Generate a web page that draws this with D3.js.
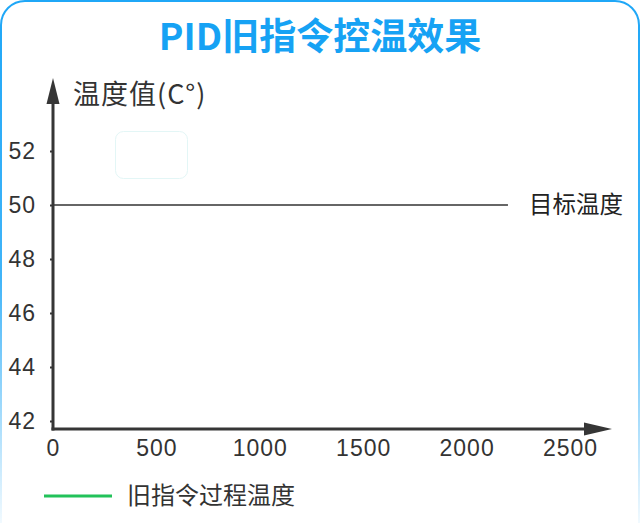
<!DOCTYPE html>
<html>
<head>
<meta charset="utf-8">
<script src="https://cdn.jsdelivr.net/npm/d3@7"></script>
<style>
  html, body { margin: 0; padding: 0; background: #fff; }
  svg { display: block; font-family: "Noto Sans CJK SC", "Noto Sans", sans-serif; }
</style>
</head>
<body>
<div id="chart"></div>
<script>
// chart values
const title = 'PID旧指令控温效果';
const yLabel = '温度值(C°)';
const xTicks = [0, 500, 1000, 1500, 2000, 2500];
const yTicks = [42, 44, 46, 48, 50, 52];
const targetName = '目标温度';
const targetTemp = 50;
const targetRange = [0, 2200];
const processName = '旧指令过程温度';
const processTemp = []; // no samples drawn in the picture

const w = 640, h = 523;
const fontFamily = '"Noto Sans CJK SC", "Noto Sans", sans-serif';
const svg = d3.select('#chart').append('svg')
  .attr('width', w)
  .attr('height', h);

// frame, fading out towards the bottom
const defs = svg.append('defs');
const grad = defs.append('linearGradient')
  .attr('id', 'frame-grad')
  .attr('x1', 0).attr('y1', 0).attr('x2', 0).attr('y2', 1);
grad.append('stop').attr('offset', '0%').attr('stop-color', '#1fa7f7').attr('stop-opacity', 1);
grad.append('stop').attr('offset', '50%').attr('stop-color', '#1fa7f7').attr('stop-opacity', 0.85);
grad.append('stop').attr('offset', '95%').attr('stop-color', '#1fa7f7').attr('stop-opacity', 0.05);

svg.append('rect')
  .attr('x', 1).attr('y', 1)
  .attr('width', w - 2).attr('height', h + 30)
  .attr('rx', 24)
  .attr('fill', 'none')
  .attr('stroke', 'url(#frame-grad)')
  .attr('stroke-width', 2);

svg.append('text')
  .attr('x', w / 2)
  .attr('y', 50)
  .attr('text-anchor', 'middle')
  .attr('font-size', 37)
  .attr('font-weight', 'bold')
  .attr('fill', '#16a2f4')
  .text(title);

const originX = 53, originY = 429;

const x = d3.scaleLinear()
  .domain([0, 2500])
  .range([originX, 570]);

const y = d3.scaleLinear()
  .domain([42, 52])
  .range([421, 151]);

const axisColor = '#363636';

// y axis ticks and labels
const yAxis = d3.axisLeft(y).tickValues(yTicks).tickSize(3).tickPadding(14).tickFormat(d3.format('d'));
const gy = svg.append('g')
  .attr('transform', 'translate(' + originX + ',0)')
  .attr('font-family', fontFamily)
  .call(yAxis);
gy.select('.domain').remove();
gy.selectAll('.tick line').attr('stroke', axisColor).attr('stroke-width', 2);
gy.selectAll('.tick text')
  .attr('font-size', 23)
  .attr('letter-spacing', 1)
  .attr('fill', '#333');

// x axis ticks and labels
const xAxis = d3.axisBottom(x).tickValues(xTicks).tickSize(0).tickPadding(11).tickFormat(d3.format('d'));
const gx = svg.append('g')
  .attr('transform', 'translate(0,' + originY + ')')
  .attr('font-family', fontFamily)
  .call(xAxis);
gx.select('.domain').remove();
gx.selectAll('.tick text')
  .attr('font-size', 23)
  .attr('letter-spacing', 1)
  .attr('fill', '#333');

// axis lines with arrow heads
svg.append('line')
  .attr('x1', originX).attr('y1', originY + 1.5)
  .attr('x2', originX).attr('y2', 100)
  .attr('stroke', axisColor).attr('stroke-width', 3);
svg.append('path')
  .attr('d', 'M' + originX + ',78 L' + (originX - 6.5) + ',104 L' + (originX + 6.5) + ',104 Z')
  .attr('fill', axisColor);

svg.append('line')
  .attr('x1', originX - 1.5).attr('y1', originY)
  .attr('x2', 590).attr('y2', originY)
  .attr('stroke', axisColor).attr('stroke-width', 3);
svg.append('path')
  .attr('d', 'M612,' + originY + ' L584,' + (originY - 6.5) + ' L584,' + (originY + 6.5) + ' Z')
  .attr('fill', axisColor);

svg.append('text')
  .attr('x', 73)
  .attr('y', 104)
  .attr('font-size', 27)
  .attr('letter-spacing', 1)
  .attr('fill', '#333')
  .text(yLabel);

// target temperature line
const line = d3.line().x(d => x(d[0])).y(d => y(d[1]));
svg.append('path')
  .datum(targetRange.map(v => [v, targetTemp]))
  .attr('d', line)
  .attr('fill', 'none')
  .attr('stroke', '#333')
  .attr('stroke-width', 1.5);

svg.append('text')
  .attr('x', 529)
  .attr('y', y(targetTemp) + 8)
  .attr('font-size', 23.5)
  .attr('fill', '#222')
  .text(targetName);

// process temperature series (empty)
svg.append('path')
  .datum(processTemp)
  .attr('d', line)
  .attr('fill', 'none')
  .attr('stroke', '#22c25a')
  .attr('stroke-width', 2);

// faint empty tooltip box
svg.append('rect')
  .attr('x', 115.5).attr('y', 131.5)
  .attr('width', 72).attr('height', 47)
  .attr('rx', 8)
  .attr('fill', 'none')
  .attr('stroke', '#e3f6f6')
  .attr('stroke-width', 1);

// legend
const legend = svg.append('g').attr('transform', 'translate(44,496)');
legend.append('line')
  .attr('x1', 0).attr('x2', 68)
  .attr('y1', 0).attr('y2', 0)
  .attr('stroke', '#22c25a')
  .attr('stroke-width', 3);
legend.append('text')
  .attr('x', 83)
  .attr('y', 8)
  .attr('font-size', 24)
  .attr('fill', '#333')
  .text(processName);
</script>
</body>
</html>
